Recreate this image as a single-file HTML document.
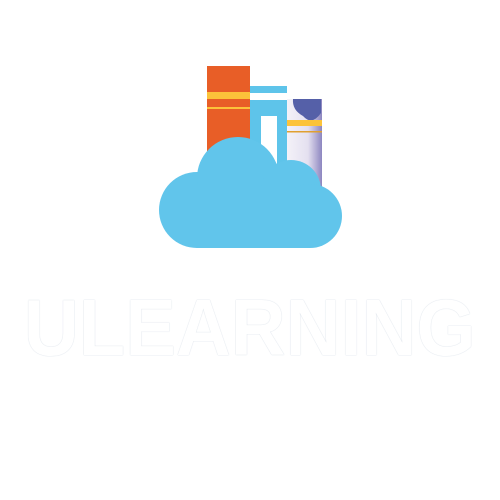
<!DOCTYPE html>
<html><head><style>
html,body{margin:0;padding:0;background:#fff;width:500px;height:500px;overflow:hidden}
.w{position:absolute;left:0;top:290px;width:500px;text-align:center}
.t{display:inline-block;font-family:"Liberation Sans",sans-serif;font-weight:bold;font-size:80px;letter-spacing:0px;color:#fff;text-shadow:0 0 1px #d5dce5,0 0 1px #d5dce5;line-height:76px;transform:scaleX(0.95);transform-origin:center}
</style></head><body>
<svg width="500" height="500" style="position:absolute;left:0;top:0">
<defs><linearGradient id="pg" x1="0" y1="0" x2="1" y2="0"><stop offset="0" stop-color="#f4f2f8"/><stop offset="0.6" stop-color="#e4e0f0"/><stop offset="1" stop-color="#8d86c0"/></linearGradient></defs>
<rect x="207" y="66" width="43" height="100" fill="#e85e27"/>
<rect x="207" y="92" width="43" height="7" fill="#fcc33a"/>
<rect x="207" y="107" width="43" height="2" fill="#fcc33a"/>
<rect x="250" y="86" width="37" height="110" fill="#5ec4ea"/>
<rect x="250" y="93" width="37" height="7" fill="#fff"/>
<rect x="261" y="116" width="16" height="80" fill="#fff"/>
<rect x="287" y="99" width="35" height="95" fill="url(#pg)"/>
<path d="M293 99 H321 V113 Q312 126 303 116 Q292 110 293 99Z" fill="#5560a8"/>
<rect x="287" y="120" width="35" height="6" fill="#fcc33a"/>
<rect x="287" y="131" width="35" height="1.5" fill="#e0a030"/>
<g fill="#61c5eb">
<circle cx="197" cy="210" r="38"/>
<circle cx="238" cy="178" r="41"/>
<circle cx="291" cy="190" r="30"/>
<circle cx="310" cy="216" r="32"/>
<rect x="197" y="190" width="113" height="58"/>
</g>
</svg>
<div class="w"><span class="t">ULEARNING</span></div>
</body></html>
